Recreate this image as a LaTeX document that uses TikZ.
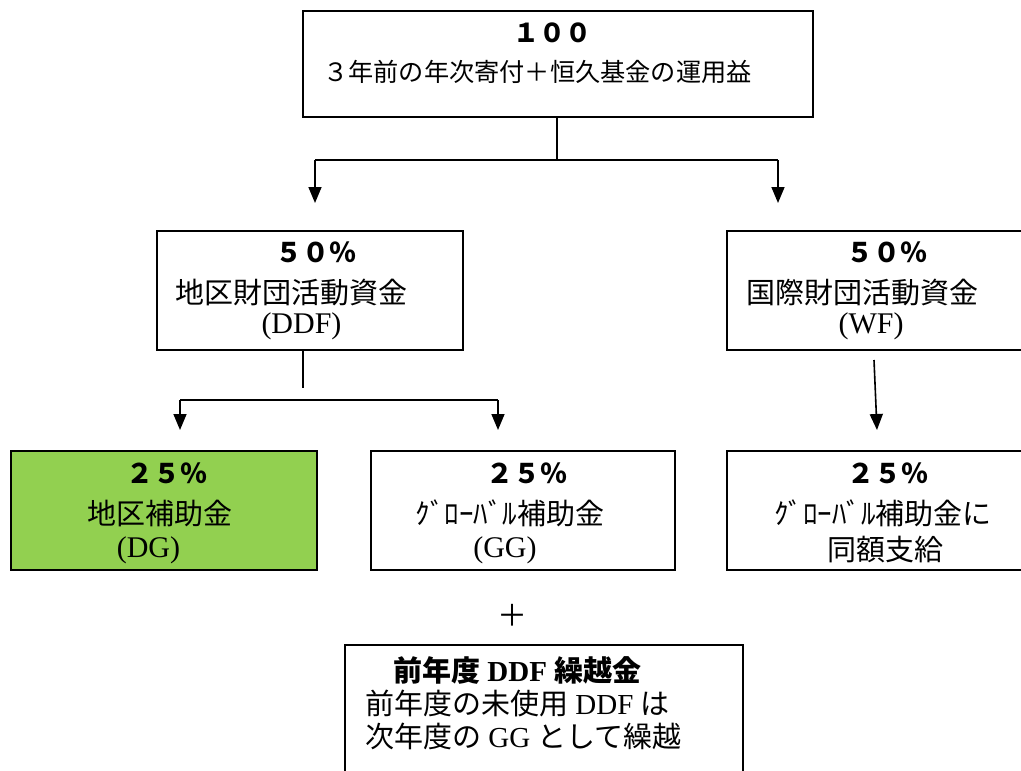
\documentclass[tikz,border=0pt]{standalone}
\usepackage{fontspec}
\setmainfont{Liberation Serif}
\newfontfamily\jp{Noto Sans CJK JP}
\usetikzlibrary{arrows.meta}
\definecolor{dggreen}{HTML}{92D050}
\tikzset{
  box/.style={draw=black, line width=1.6pt, rectangle, inner sep=0pt},
  conn/.style={draw=black, line width=1.6pt},
  arr/.style={conn, -{Triangle[width=13pt,length=16pt]}},
  txt/.style={inner sep=0pt, anchor=center},
}
\newcommand{\fs}[1]{\fontsize{#1}{#1}\selectfont}
\begin{document}
\begin{tikzpicture}[x=1pt,y=-1pt]
\useasboundingbox (0,0) rectangle (1021,771);
\clip (0,0) rectangle (1021,771);
% boxes
\node[box, minimum width=510pt, minimum height=106pt] (top) at (558,64) {};
\node[box, minimum width=306pt, minimum height=119pt] (ddf) at (310,290.5) {};
\node[box, minimum width=313pt, minimum height=119pt] (wf) at (883.5,290.5) {};
\node[box, fill=dggreen, minimum width=306pt, minimum height=119pt] (dg) at (164,510.5) {};
\node[box, minimum width=304pt, minimum height=119pt] (gg) at (523,510.5) {};
\node[box, minimum width=313pt, minimum height=119pt] (wg) at (883.5,510.5) {};
\node[box, minimum width=398pt, minimum height=160pt] (cf) at (544,725) {};
% texts
\node[txt] (t1) at (552,33) {\jp\bfseries\fs{26}１００};
\node[txt] (t2) at (537.5,72) {\jp\fs{25.2}３年前の年次寄付＋恒久基金の運用益};
\node[txt] (d1) at (316,252) {\jp\bfseries\fs{27}５０％};
\node[txt] (d2) at (291.5,293) {\jp\fs{29}地区財団活動資金};
\node[txt] (d3) at (301.5,326) {\fs{30}(DDF)};
\node[txt] (w1) at (887,252) {\jp\bfseries\fs{27}５０％};
\node[txt] (w2) at (862,293) {\jp\fs{29}国際財団活動資金};
\node[txt] (w3) at (871,326) {\fs{30}(WF)};
\node[txt] (g1) at (167,473) {\jp\bfseries\fs{27}２５％};
\node[txt] (g2) at (160,513) {\jp\fs{29}地区補助金};
\node[txt] (g3) at (148.5,550) {\fs{30}(DG)};
\node[txt] (h1) at (527,473) {\jp\bfseries\fs{27}２５％};
\node[txt] (h2) at (510,513) {\jp\fs{29}ｸﾞﾛｰﾊﾞﾙ補助金};
\node[txt] (h3) at (505,550) {\fs{30}(GG)};
\node[txt] (k1) at (887.5,473) {\jp\bfseries\fs{27}２５％};
\node[txt] (k2) at (883,513) {\jp\fs{29}ｸﾞﾛｰﾊﾞﾙ補助金に};
\node[txt] (k3) at (885,550) {\jp\fs{29}同額支給};
\node[txt] (plus) at (512,615) {\jp\fs{30}＋};
\node[txt, anchor=west] (c1) at (393,670) {\bfseries\fs{29}{\jp 前年度} DDF {\jp 繰越金}};
\node[txt, anchor=west] (c2) at (365,703) {\fs{29}{\jp 前年度の未使用} DDF {\jp は}};
\node[txt, anchor=west] (c3) at (365,736) {\fs{29}{\jp 次年度の} GG {\jp として繰越}};
% connectors
\coordinate (j1) at (557,160);
\coordinate (jl) at (315,160);
\coordinate (jr) at (778,160);
\coordinate (al) at (315,203);
\coordinate (ar) at (778,203);
\draw[conn] (top.south -| j1) -- (j1);
\draw[conn] (jl) -- (jr);
\draw[arr] (jl) -- (al);
\draw[arr] (jr) -- (ar);
\coordinate (v1) at (303,388);
\coordinate (hl) at (180,400);
\coordinate (hr) at (498,400);
\coordinate (bl) at (180,430);
\coordinate (br) at (498,430);
\draw[conn] (ddf.south -| v1) -- (v1);
\draw[conn] (hl) -- (hr);
\draw[arr] (hl) -- (bl);
\draw[arr] (hr) -- (br);
\coordinate (ws) at (874,360);
\coordinate (we) at (877,430);
\draw[arr] (ws) -- (we);
\end{tikzpicture}
\end{document}
